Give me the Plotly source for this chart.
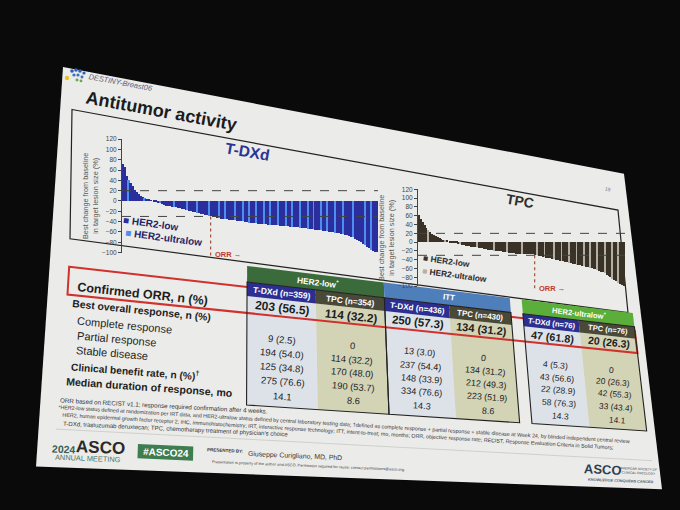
import math
import numpy as np
import plotly.graph_objects as go

W, H = 680, 510
FONT = "Liberation Sans, Arial, sans-serif"

# ---------------- data ----------------
tdxd_change = [72, 65, 48, 40, 34, 28, 22, 18, 14, 10,
               7, 5, 3, 2, 1, 0, -1, -2, -4, -5,
               -7, -8, -9, -10, -10, -11, -12, -12, -13, -14,
               -15, -16, -17, -18, -19, -20, -21, -22, -23, -24,
               -25, -26, -27, -28, -29, -30, -31, -32, -33, -34,
               -35, -35, -36, -36, -37, -37, -38, -38, -39, -39,
               -40, -40, -41, -41, -42, -42, -42, -43, -43, -44,
               -44, -44, -45, -45, -46, -46, -46, -47, -47, -47,
               -48, -48, -48, -49, -49, -50, -50, -50, -51, -51,
               -52, -52, -53, -53, -54, -54, -55, -55, -56, -56,
               -57, -57, -58, -58, -59, -60, -60, -61, -62, -62,
               -63, -64, -65, -66, -67, -68, -70, -71, -73, -75,
               -77, -80, -83, -86, -89, -92, -95, -97, -99, -100]
tdxd_ultralow_idx = [3, 11, 19, 26, 33, 38, 44, 49, 52, 57, 61, 64, 68, 72, 75, 79,
                     83, 86, 90, 94, 97, 101, 104, 108, 112, 117, 123, 126]

tpc_change = [60, 52, 45, 38, 32, 27, 22, 18, 15, 12,
              10, 8, 6, 4, 3, 2, 0, -1, -2, -3,
              -4, -5, -6, -7, -8, -9, -10, -10, -11, -12,
              -12, -13, -14, -15, -15, -16, -17, -18, -18, -19,
              -20, -20, -21, -22, -22, -23, -24, -24, -25, -26,
              -26, -26, -27, -27, -27, -28, -28, -29, -29, -29,
              -29, -29, -30, -31, -32, -33, -34, -35, -36, -37,
              -38, -39, -40, -41, -42, -43, -44, -45, -46, -47,
              -48, -49, -50, -51, -52, -53, -54, -55, -56, -57,
              -58, -59, -60, -61, -62, -64, -66, -68, -70, -72,
              -75, -78, -81, -84, -87, -90, -93, -96, -98, -100]
tpc_ultralow_idx = [5, 14, 22, 31, 40, 47, 55, 63, 67, 72, 76, 80, 84, 88, 91, 95, 99, 103, 106]

y_ticks = [-100, -80, -60, -40, -20, 0, 20, 40, 60, 80, 100, 120]
pd_threshold = 20
pr_threshold = -30

group_names = ["HER2-low<sup>*</sup>", "ITT", "HER2-ultralow<sup>*</sup>"]
arm_names = ["T-DXd (n=359)", "TPC (n=354)", "T-DXd (n=436)", "TPC (n=430)", "T-DXd (n=76)", "TPC (n=76)"]
row_labels = ["Confirmed ORR, n (%)", "Best overall response, n (%)", "Complete response",
              "Partial response", "Stable disease", "Clinical benefit rate, n (%)<sup>†</sup>",
              "Median duration of response, mo"]
orr_values = ["203 (56.5)", "114 (32.2)", "250 (57.3)", "134 (31.2)", "47 (61.8)", "20 (26.3)"]
complete_resp = ["9 (2.5)", "0", "13 (3.0)", "0", "4 (5.3)", "0"]
partial_resp = ["194 (54.0)", "114 (32.2)", "237 (54.4)", "134 (31.2)", "43 (56.6)", "20 (26.3)"]
stable_dis = ["125 (34.8)", "170 (48.0)", "148 (33.9)", "212 (49.3)", "22 (28.9)", "42 (55.3)"]
cbr_values = ["275 (76.6)", "190 (53.7)", "334 (76.6)", "223 (51.9)", "58 (76.3)", "33 (43.4)"]
mdor_values = ["14.1", "8.6", "14.3", "8.6", "14.3", "14.1"]

footnotes = [
    "ORR based on RECIST v1.1; response required confirmation after 4 weeks.",
    "*HER2-low status defined at randomization per IRT data, and HER2-ultralow status defined by central laboratory testing data; "
    "†defined as complete response + partial response + stable disease at Week 24, by blinded independent central review",
    "HER2, human epidermal growth factor receptor 2; IHC, immunohistochemistry; IRT, interactive response technology; ITT, intent-to-treat; "
    "mo, months; ORR, objective response rate; RECIST, Response Evaluation Criteria in Solid Tumors;",
    "T-DXd, trastuzumab deruxtecan; TPC, chemotherapy treatment of physician's choice",
]

# ---------------- colours ----------------
TDXD_LOW, TDXD_ULTRA = "#2b2f9e", "#4d8ef0"
TPC_LOW, TPC_ULTRA = "#3a3227", "#b2b0a4"
GROUP_COL = ["#3b6b3a", "#4f7fba", "#5cae3a"]
TDXD_HDR, TPC_HDR = "#2d2f90", "#4a4836"
TDXD_CELL, TPC_CELL = "#dde2e9", "#d3d3b6"
RED = "#d0312d"
BG = "#0a0a0a"

# ---------------- perspective of the photographed slide ----------------
SLIDE_CORNERS = [(63, 64), (624, 172), (662, 492), (36, 469)]


def _homography(dst):
    src = [(0, 0), (1, 0), (1, 1), (0, 1)]
    A, b = [], []
    for (x, y), (X, Y) in zip(src, dst):
        A.append([x, y, 1, 0, 0, 0, -X * x, -X * y]); b.append(X)
        A.append([0, 0, 0, x, y, 1, -Y * x, -Y * y]); b.append(Y)
    h = np.linalg.solve(np.array(A, float), np.array(b, float))
    return np.append(h, 1.0).reshape(3, 3)


HM = _homography(SLIDE_CORNERS)
HI = np.linalg.inv(HM)


def fwd(u, v):
    p = HM @ np.array([u, v, 1.0])
    return p[0] / p[2], p[1] / p[2]


def inv(x, y):
    p = HI @ np.array([x, y, 1.0])
    return p[0] / p[2], p[1] / p[2]


def local_angle(x, y):
    u, v = inv(x, y)
    x0, y0 = fwd(u - 0.005, v)
    x1, y1 = fwd(u + 0.005, v)
    return math.degrees(math.atan2(y1 - y0, x1 - x0))


def local_scale(x, y):
    u, v = inv(x, y)
    x0, y0 = fwd(u, v - 0.005)
    x1, y1 = fwd(u, v + 0.005)
    return math.hypot(x1 - x0, y1 - y0)


def P(x, y):
    return x / W, 1 - y / H


shapes, ann = [], []


def path_px(pts, close=True):
    s = ""
    for i, (x, y) in enumerate(pts):
        px, py = P(x, y)
        s += ("M" if i == 0 else "L") + f"{px:.5f},{py:.5f} "
    return s + ("Z" if close else "")


def add_poly(pts, fill=None, line=None, width=1.0, close=True, dash=None):
    ln = dict(color=line if line else "rgba(0,0,0,0)", width=width if line else 0)
    if dash:
        ln["dash"] = dash
    shapes.append(dict(type="path", path=path_px(pts, close), xref="paper", yref="paper",
                       fillcolor=fill if fill else "rgba(0,0,0,0)", line=ln, layer="below"))


def quad_uv(u0, v0, u1, v1):
    return [fwd(u0, v0), fwd(u1, v0), fwd(u1, v1), fwd(u0, v1)]


def text(x, y, s, size, color="#222", bold=False, italic=False, angle=None):
    a = local_angle(x, y) if angle is None else angle
    if bold:
        s = f"<b>{s}</b>"
    if italic:
        s = f"<i>{s}</i>"
    px, py = P(x, y)
    ann.append(dict(x=px, y=py, xref="paper", yref="paper", text=s, showarrow=False,
                    font=dict(size=size, color=color, family=FONT), textangle=a,
                    xanchor="center", yanchor="middle"))


def text_line(x0, y0, x1, y1, s, size, color="#333"):
    ang = math.degrees(math.atan2(y1 - y0, x1 - x0))
    text((x0 + x1) / 2, (y0 + y1) / 2, s, size, color, angle=ang)


# ---------------- room + slide background ----------------
shapes.append(dict(type="rect", xref="paper", yref="paper", x0=0, x1=1, y0=0, y1=1,
                   fillcolor=BG, line=dict(width=0), layer="below"))
add_poly(SLIDE_CORNERS, fill="#ebebe9")

# logo
for (cx, cy, r, c) in [(67, 75, 2.2, "#e8c020"), (72, 68, 1.8, "#2f5fb0"), (76, 67, 1.8, "#2f5fb0"),
                       (80, 68, 1.8, "#2f5fb0"), (84, 70, 1.6, "#2f5fb0"), (74, 72, 1.6, "#3a70c0"),
                       (78, 72, 1.6, "#3a70c0"), (82, 74, 1.5, "#3a70c0"), (77, 77, 1.5, "#6aa84f"),
                       (81, 78, 1.4, "#6aa84f")]:
    x0, y0 = P(cx - r, cy - r)
    x1, y1 = P(cx + r, cy + r)
    shapes.append(dict(type="circle", xref="paper", yref="paper", x0=x0, x1=x1, y0=y1, y1=y0,
                       fillcolor=c, line=dict(width=0), layer="below"))
text(120, 80, "DESTINY-Breast06", 7.5, "#56607a", italic=True)
text(161, 108, "Antitumor activity", 18, "#1c1c1c", bold=True)
text(608, 188, "15", 5, "#777")

# waterfall frame
add_poly([(72, 107), (618, 209), (628, 313), (70, 238)], line="#222", width=1.2)

# ---------------- table ----------------
col_edges_px = [(247, 300), (316, 306), (385, 313), (450, 320), (512, 327), (524, 328), (580, 334), (636, 341)]
row_edges_y = [270, 286, 300, 318, 409]          # measured on the x = 283 column
row_centers_y = [308, 340, 354.5, 368.5, 383, 398]
col_u = [inv(x, y)[0] for x, y in col_edges_px]
row_v = [inv(283, y)[1] for y in row_edges_y]
groups = [(0, 1, 2), (2, 3, 4), (5, 6, 7)]

for a, m, b in groups:
    add_poly(quad_uv(col_u[a], row_v[2], col_u[m], row_v[4]), fill=TDXD_CELL)
    add_poly(quad_uv(col_u[m], row_v[2], col_u[b], row_v[4]), fill=TPC_CELL)

# red box around confirmed ORR row
ru0 = inv(68, 286)[0]
ru1 = inv(637, 350)[0]
rv0 = inv(283, 291)[1]
rv1 = inv(283, 317)[1]
add_poly(quad_uv(ru0, rv0, ru1, rv1), line=RED, width=2)

for g, (a, m, b) in enumerate(groups):
    add_poly(quad_uv(col_u[a], row_v[0], col_u[b], row_v[1]), fill=GROUP_COL[g])
    add_poly(quad_uv(col_u[a], row_v[1], col_u[m], row_v[2]), fill=TDXD_HDR)
    add_poly(quad_uv(col_u[m], row_v[1], col_u[b], row_v[2]), fill=TPC_HDR)
    add_poly(quad_uv(col_u[a], row_v[1], col_u[b], row_v[4]), line="#222", width=1.1)
    gx, gy = fwd((col_u[a] + col_u[b]) / 2, (row_v[0] + row_v[1]) / 2)
    text(gx, gy, group_names[g], 8.5 * local_scale(gx, gy) / local_scale(283, 278), "white", bold=True)
    for k, (c0, c1) in enumerate([(a, m), (m, b)]):
        hx, hy = fwd((col_u[c0] + col_u[c1]) / 2, (row_v[1] + row_v[2]) / 2)
        text(hx, hy, arm_names[2 * g + k], 8.6 * local_scale(hx, hy) / local_scale(283, 293), "white", bold=True)

col_centers = []
for a, m, b in groups:
    col_centers += [(col_u[a] + col_u[m]) / 2, (col_u[m] + col_u[b]) / 2]

table_rows = [orr_values, complete_resp, partial_resp, stable_dis, cbr_values, mdor_values]
for r, vals in enumerate(table_rows):
    v_r = inv(283, row_centers_y[r])[1]
    ref = local_scale(283, row_centers_y[r])
    base = 12 if r == 0 else 9.6
    for c, s in enumerate(vals):
        x, y = fwd(col_centers[c], v_r)
        text(x, y, s, base * local_scale(x, y) / ref, "#1e1e1e", bold=(r == 0))

label_spec = [((142, 294), 12.5, True), ((141, 311), 10.4, True), ((124, 325), 11, False),
              ((117, 340), 11, False), ((112, 354), 11, False), ((135, 372), 10.2, True),
              ((149, 388), 10.6, True)]
for lab, ((x, y), sz, bd) in zip(row_labels, label_spec):
    text(x, y, lab, sz, "#1e1e1e", bold=bd)

# ---------------- footnotes & footer ----------------
text_line(60, 402, 268, 413, footnotes[0], 6.2, "#333")
text_line(60, 409, 627, 443, footnotes[1], 5.3, "#333")
text_line(60, 416, 615, 449, footnotes[2], 5.3, "#333")
text_line(60, 425, 291, 436, footnotes[3], 6.0, "#333")
add_poly([(56, 431), (652, 463)], line="#c8c8c4", width=0.8, close=False)

text(64, 451, "2024", 10.5, "#3f5f55", bold=True)
text(100, 450, "ASCO", 17, "#2a2a2a", bold=True)
text(88, 461, "ANNUAL MEETING", 7.4, "#4f7563")
bx0, by0 = inv(138, 446)
bx1, by1 = inv(193, 463)
add_poly(quad_uv(bx0, by0, bx1, by1), fill="#3e7d4f")
text(166, 455, "#ASCO24", 10, "white", bold=True)
text(225, 453, "PRESENTED BY:", 4.5, "#333", bold=True)
text(295, 458, "Giuseppe Curigliano, MD, PhD", 6.9, "#333")
text(308, 468, "Presentation is property of the author and ASCO. Permission required for reuse; contact permissions@asco.org.",
     3.9, "#444")
text(603, 472, "ASCO", 13, "#2c3e50", bold=True)
text(638, 474, "AMERICAN SOCIETY OF<br>CLINICAL ONCOLOGY", 3.2, "#2c3e50")
text(621, 484, "KNOWLEDGE CONQUERS CANCER", 3.8, "#3a5a7a", bold=True)

# ---------------- waterfalls ----------------
tdxd_colors = [TDXD_ULTRA if i in tdxd_ultralow_idx else TDXD_LOW for i in range(len(tdxd_change))]
tpc_colors = [TPC_ULTRA if i in tpc_ultralow_idx else TPC_LOW for i in range(len(tpc_change))]

fig = go.Figure()
fig.add_trace(go.Bar(x=list(range(len(tdxd_change))), y=tdxd_change, marker=dict(color=tdxd_colors, line=dict(width=0)),
                     xaxis="x", yaxis="y", hoverinfo="skip", showlegend=False))
fig.add_trace(go.Bar(x=list(range(len(tpc_change))), y=tpc_change, marker=dict(color=tpc_colors, line=dict(width=0)),
                     xaxis="x2", yaxis="y2", hoverinfo="skip", showlegend=False))

TD_X = (122, 378); TD_Y = (137, 252)      # pixel extents of the T-DXd plot area
TP_X = (418, 625); TP_Y = (188, 286)      # pixel extents of the TPC plot area


def ydom(py):
    return [1 - py[1] / H, 1 - py[0] / H]


def yaxis_cfg(py):
    return dict(domain=ydom(py), range=[y_ticks[0], y_ticks[-1]], tickvals=y_ticks,
                showline=True, linecolor="#444", linewidth=1, ticks="outside", ticklen=3, tickcolor="#444",
                tickfont=dict(size=6.5, color="#444", family=FONT), showgrid=False, zeroline=False,
                title=dict(text="Best change from baseline<br>in target lesion size (%)",
                           font=dict(size=7.3, color="#555", family=FONT), standoff=2))


def paper_y_of(val, py):
    d0, d1 = ydom(py)
    return d0 + (val - y_ticks[0]) / (y_ticks[-1] - y_ticks[0]) * (d1 - d0)


for xa, ya, data, py, col in [("x", "y", tdxd_change, TD_Y, "#444"), ("x2", "y2", tpc_change, TP_Y, "#444")]:
    n = len(data)
    for lvl in (pd_threshold, pr_threshold):
        shapes.append(dict(type="line", xref=xa, yref=ya, x0=-0.5, x1=n - 0.5, y0=lvl, y1=lvl,
                           line=dict(color=col, width=1, dash="dash"), layer="above"))
    cut = next(i for i, v in enumerate(data) if v <= pr_threshold)
    shapes.append(dict(type="line", xref=xa, yref="paper", x0=cut - 0.5, x1=cut - 0.5,
                       y0=paper_y_of(pr_threshold, py), y1=paper_y_of(y_ticks[0], py) - 4 / H,
                       line=dict(color="#a0523a", width=1.2, dash="dot"), layer="above"))
    ann.append(dict(x=cut + 0.5, y=paper_y_of(y_ticks[0], py) - 2 / H, xref=xa, yref="paper",
                    text="<b>ORR →</b>", showarrow=False, xanchor="left", yanchor="middle",
                    font=dict(size=7.5, color="#c0392b", family=FONT)))

text(247, 150, "T-DXd", 15.5, "#283593", bold=True)
text(520, 200, "TPC", 14, "#2d2d2d", bold=True)
text(151, 223, f"<span style='color:{TDXD_LOW}'>■</span> HER2-low", 10, "#1f2466", bold=True)
text(163, 237, f"<span style='color:{TDXD_ULTRA}'>■</span> HER2-ultralow", 10, "#1f2466", bold=True)
text(446, 261, f"<span style='color:{TPC_LOW}'>■</span> HER2-low", 8.4, "#2a2a2a", bold=True)
text(454, 275, f"<span style='color:{TPC_ULTRA}'>■</span> HER2-ultralow", 8.4, "#2a2a2a", bold=True)

fig.update_layout(
    width=W, height=H, margin=dict(l=0, r=0, t=0, b=0),
    paper_bgcolor=BG, plot_bgcolor="rgba(0,0,0,0)",
    font=dict(family=FONT),
    bargap=0, showlegend=False,
    xaxis=dict(domain=[TD_X[0] / W, TD_X[1] / W], range=[-0.5, len(tdxd_change) - 0.5], visible=False, anchor="y"),
    yaxis=dict(anchor="x", **yaxis_cfg(TD_Y)),
    xaxis2=dict(domain=[TP_X[0] / W, TP_X[1] / W], range=[-0.5, len(tpc_change) - 0.5], visible=False, anchor="y2"),
    yaxis2=dict(anchor="x2", **yaxis_cfg(TP_Y)),
    shapes=shapes, annotations=ann,
)

fig.write_html("out.html", config={"displayModeBar": False},
               post_script="document.body.style.margin='0';document.body.style.background='#0a0a0a';")
